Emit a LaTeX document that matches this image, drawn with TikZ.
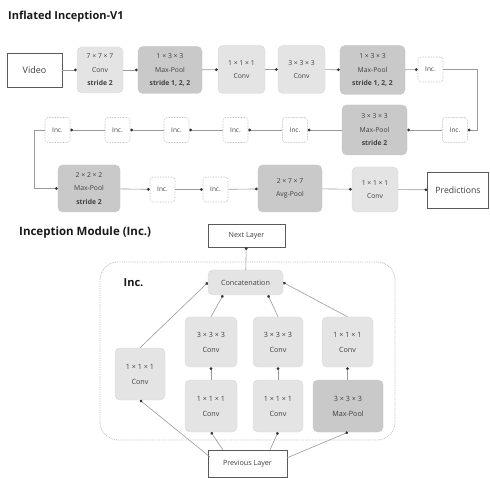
\documentclass[tikz,border=0pt]{standalone}
\usepackage{fontspec}
\setmainfont{Open Sans}
\usetikzlibrary{arrows.meta,calc}
\definecolor{lt}{HTML}{E4E4E4}
\definecolor{dk}{HTML}{C9C9C9}
\definecolor{ln}{HTML}{9A9A9A}
\definecolor{tx}{HTML}{404040}
\definecolor{bd}{HTML}{5A5A5A}
\begin{document}
\begin{tikzpicture}[x=1pt,y=-1pt,
  lbox/.style={fill=lt, draw=lt!85!gray, rounded corners=5pt, inner sep=0pt, align=center, text=tx, font=\fontsize{6.8}{13.5}\selectfont},
  dbox/.style={lbox, fill=dk, draw=dk!90!gray},
  mbox/.style={lbox, font=\fontsize{7.2}{15}\selectfont},
  mdbox/.style={mbox, fill=dk, draw=dk!90!gray},
  incb/.style={draw=gray!60, densely dotted, line width=0.6pt, fill=white, rounded corners=3pt, inner sep=0pt, minimum width=25pt, minimum height=25pt, font=\fontsize{6.5}{7}\selectfont, text=tx},
  wbox/.style={draw=bd, fill=white, inner sep=0pt, text=tx},
  arr/.style={draw=ln, line width=0.6pt, -{Circle[length=2.8pt,color=black!80]}},
  ttl/.style={font=\fontsize{11}{13}\selectfont\bfseries, text=black!90, anchor=base west, inner sep=0pt}
]
\useasboundingbox (0,0) rectangle (490,478);

\node[ttl] (t1) at (8,20) {Inflated Inception-V1};

% row 1
\node[wbox, minimum width=55pt, minimum height=34pt, font=\fontsize{9}{11}\selectfont] (video) at (34.5,70) {Video};
\node[lbox, minimum width=46pt, minimum height=46pt] (c1) at (100,70) {7 × 7 × 7\\Conv\\\textbf{stride 2}};
\node[dbox, minimum width=64pt, minimum height=47pt] (mp1) at (170,70) {1 × 3 × 3\\Max-Pool\\\textbf{stride 1, 2, 2}};
\node[lbox, minimum width=47pt, minimum height=48pt] (c2) at (241.5,69.5) {1 × 1 × 1\\Conv};
\node[lbox, minimum width=47pt, minimum height=48pt] (c3) at (301.5,69.5) {3 × 3 × 3\\Conv};
\node[dbox, minimum width=65pt, minimum height=49pt] (mp2) at (372.5,70) {1 × 3 × 3\\Max-Pool\\\textbf{stride 1, 2, 2}};
\node[incb] (i1) at (430.5,69.5) {Inc.};

% row 2
\node[incb] (i2) at (455,130) {Inc.};
\node[dbox, minimum width=65pt, minimum height=50pt] (mp3) at (374.5,130) {3 × 3 × 3\\Max-Pool\\\textbf{stride 2}};
\node[incb] (i3) at (295,130) {Inc.};
\node[incb] (i4) at (235.5,130) {Inc.};
\node[incb] (i5) at (176.5,130) {Inc.};
\node[incb] (i6) at (117.5,130) {Inc.};
\node[incb] (i7) at (57.5,130) {Inc.};

% row 3
\node[dbox, minimum width=62pt, minimum height=47pt] (mp4) at (89,188.5) {2 × 2 × 2\\Max-Pool\\\textbf{stride 2}};
\node[incb] (i8) at (162.5,189.5) {Inc.};
\node[incb] (i9) at (215.5,189.5) {Inc.};
\node[dbox, minimum width=64pt, minimum height=47pt] (ap) at (290,188.5) {2 × 7 × 7\\Avg-Pool};
\node[lbox, minimum width=46pt, minimum height=45pt] (c4) at (375,189.5) {1 × 1 × 1\\Conv};
\node[wbox, minimum width=61pt, minimum height=36pt, font=\fontsize{8.7}{10}\selectfont] (pred) at (458,190) {Predictions};

\coordinate (k1) at (477,69.5);
\coordinate (k2) at (477,130);
\coordinate (k3) at (34,130);
\coordinate (k4) at (34,188.5);

\draw[arr] (video) -- (c1);
\draw[arr] (c1) -- (mp1);
\draw[arr] (mp1) -- (c2);
\draw[arr] (c2) -- (c3);
\draw[arr] (c3) -- (mp2);
\draw[arr] (mp2) -- (i1);
\draw[arr] (i1.east) -- (k1) -- (k2) -- (i2.east);
\draw[arr] (i2) -- (mp3);
\draw[arr] (mp3) -- (i3);
\draw[arr] (i3) -- (i4);
\draw[arr] (i4) -- (i5);
\draw[arr] (i5) -- (i6);
\draw[arr] (i6) -- (i7);
\draw[arr] (i7.west) -- (k3) -- (k4) -- (mp4.west);
\draw[arr] (mp4) -- (i8);
\draw[arr] (i8) -- (i9);
\draw[arr] (i9) -- (ap);
\draw[arr] (ap) -- (c4);
\draw[arr] (c4) -- (pred);

% Inception module
\node[ttl, font=\fontsize{11.5}{13}\selectfont\bfseries] (t2) at (19,236) {Inception Module (Inc.)};
\node[draw=gray!55, densely dotted, line width=0.8pt, rounded corners=18pt, minimum width=295pt, minimum height=178pt, inner sep=0pt] (mod) at (247.5,351) {};
\node[font=\fontsize{11}{13}\selectfont\bfseries, text=black!90, inner sep=0pt] (inclbl) at (133.5,283) {Inc.};

\node[wbox, minimum width=77pt, minimum height=23pt, font=\fontsize{7.2}{9}\selectfont] (next) at (246.5,235.5) {Next Layer};
\node[mbox, minimum width=75pt, minimum height=25pt] (cat) at (245.5,282.5) {Concatenation};
\node[mbox, minimum width=52pt, minimum height=50pt] (u2) at (211,342) {3 × 3 × 3\\Conv};
\node[mbox, minimum width=50pt, minimum height=50pt] (u3) at (278,342) {3 × 3 × 3\\Conv};
\node[mbox, minimum width=51pt, minimum height=50pt] (u4) at (347.5,342) {1 × 1 × 1\\Conv};
\node[mbox, minimum width=50pt, minimum height=52pt] (l1) at (140,374) {1 × 1 × 1\\Conv};
\node[mbox, minimum width=52pt, minimum height=52pt] (l2) at (211,406) {1 × 1 × 1\\Conv};
\node[mbox, minimum width=50pt, minimum height=52pt] (l3) at (278,406) {1 × 1 × 1\\Conv};
\node[mdbox, minimum width=70pt, minimum height=52pt] (l4) at (348,406) {3 × 3 × 3\\Max-Pool};
\node[wbox, minimum width=79pt, minimum height=27pt, font=\fontsize{7.2}{9}\selectfont] (prev) at (247.5,463.5) {Previous Layer};

\draw[arr] ($(prev.north west)+(2,7)$) -- (l1.south);
\draw[arr] ($(prev.north west)+(15,0)$) -- (l2.south);
\draw[arr] ($(prev.north)+(22.5,0)$) -- (l3.south);
\draw[arr] ($(prev.north east)+(0,8)$) -- (l4.south);
\draw[arr] (l2) -- (u2);
\draw[arr] (l3) -- (u3);
\draw[arr] (l4.north -| u4) -- (u4);
\draw[arr] (l1.north) -- (cat.west);
\draw[arr] (u2.north) -- ($(cat.south)+(-22.5,0)$);
\draw[arr] (u3.north) -- ($(cat.south)+(22.5,0)$);
\draw[arr] (u4.north) -- (cat.east);
\draw[arr] (cat) -- (next);
\end{tikzpicture}
\end{document}
